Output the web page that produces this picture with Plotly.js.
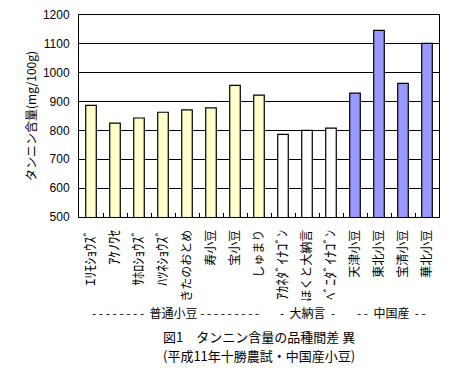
<!DOCTYPE html>
<html><head><meta charset="utf-8">
<script src="https://cdn.plot.ly/plotly-3.0.1.min.js"></script>
<style>html,body{margin:0;padding:0;background:#fff;}#chart{width:458px;height:374px;}</style>
</head><body><div id="chart"></div>
<script>
const categories = ["ｴﾘﾓｼｮｳｽﾞ","ｱｹﾉﾜｾ","ｻﾎﾛｼｮｳｽﾞ","ﾊﾂﾈｼｮｳｽﾞ","きたのおとめ","寿小豆","宝小豆","しゅまり","ｱｶﾈﾀﾞｲﾅｺﾞﾝ","ほくと大納言","ﾍﾞﾆﾀﾞｲﾅｺﾞﾝ","天津小豆","東北小豆","宝清小豆","華北小豆"];
const values = [887, 825, 843, 863, 871, 878, 956, 922, 786, 800, 808, 929, 1147, 963, 1102];
const groups = ["普通小豆","普通小豆","普通小豆","普通小豆","普通小豆","普通小豆","普通小豆","普通小豆","大納言","大納言","大納言","中国産","中国産","中国産","中国産"];
const groupColors = {"普通小豆":"#FFFFCC","大納言":"#FFFFFF","中国産":"#9999FF"};
const yTicks = [500,600,700,800,900,1000,1100,1200];

const font = "'Noto Sans CJK JP', 'Noto Sans', sans-serif";
// enlarge half-width katakana so it resembles the original bitmap font
function tickLabel(s){
  return s.replace(/([\uFF61-\uFF9F]+)/g, '<span style="font-size:14px">$1</span>');
}
const trace = {
  type:'bar', x: categories, y: values,
  marker:{color: groups.map(g=>groupColors[g]), line:{color:'#000', width:1.2}},
  width:0.44, hoverinfo:'none'
};
const layout = {
  width:458, height:374,
  margin:{l:79, r:19, t:15, b:157},
  paper_bgcolor:'#fff', plot_bgcolor:'#fff',
  showlegend:false,
  font:{family:font, size:11, color:'#000'},
  xaxis:{type:'category', tickangle:-90, ticks:'inside', tickson:'boundaries', ticklen:4, tickcolor:'#000',
    tickvals: categories, ticktext: categories.map(tickLabel), ticklabelstandoff:7,
    showline:true, linecolor:'#000', linewidth:1, mirror:true, showgrid:false,
    tickfont:{family:font, size:12}, automargin:false},
  yaxis:{range:[500,1200], tickvals:yTicks, ticks:'', showline:true, linecolor:'#000', linewidth:1, mirror:true,
    gridcolor:'#000', gridwidth:1, zeroline:false, tickfont:{family:'Arial, Liberation Sans, sans-serif', size:12},
    ticklabelstandoff:6,
    title:{text:'タンニン含量(mg/100g)', font:{family:font, size:12}, standoff:3}, automargin:false},
  annotations:[]
};
const plotH = 374-15-157;
function py(px){ return (374-157-px)/plotH; }
const dash = n => Array(n).fill('-').join(' ');
const ann = (x, xref, ypx, text, size) => ({x, xref, y:py(ypx), yref:'paper', yanchor:'middle', xanchor:'center', text, showarrow:false, font:{family:font,size}});
layout.annotations.push(ann(3.5, 'x', 312, dash(8)+'  普通小豆 '+dash(9), 12));
layout.annotations.push(ann(9, 'x', 312, '-  大納言  -', 12));
layout.annotations.push(ann(12.5, 'x', 312, '- -  中国産  - -', 12));
layout.annotations.push(ann(0.5, 'paper', 336, '図1　タンニン含量の品種間差 異', 13));
layout.annotations.push(ann(0.5, 'paper', 355.5, '(平成11年十勝農試・中国産小豆)', 13));
Plotly.newPlot('chart',[trace],layout,{displayModeBar:false, staticPlot:true});
</script></body></html>
